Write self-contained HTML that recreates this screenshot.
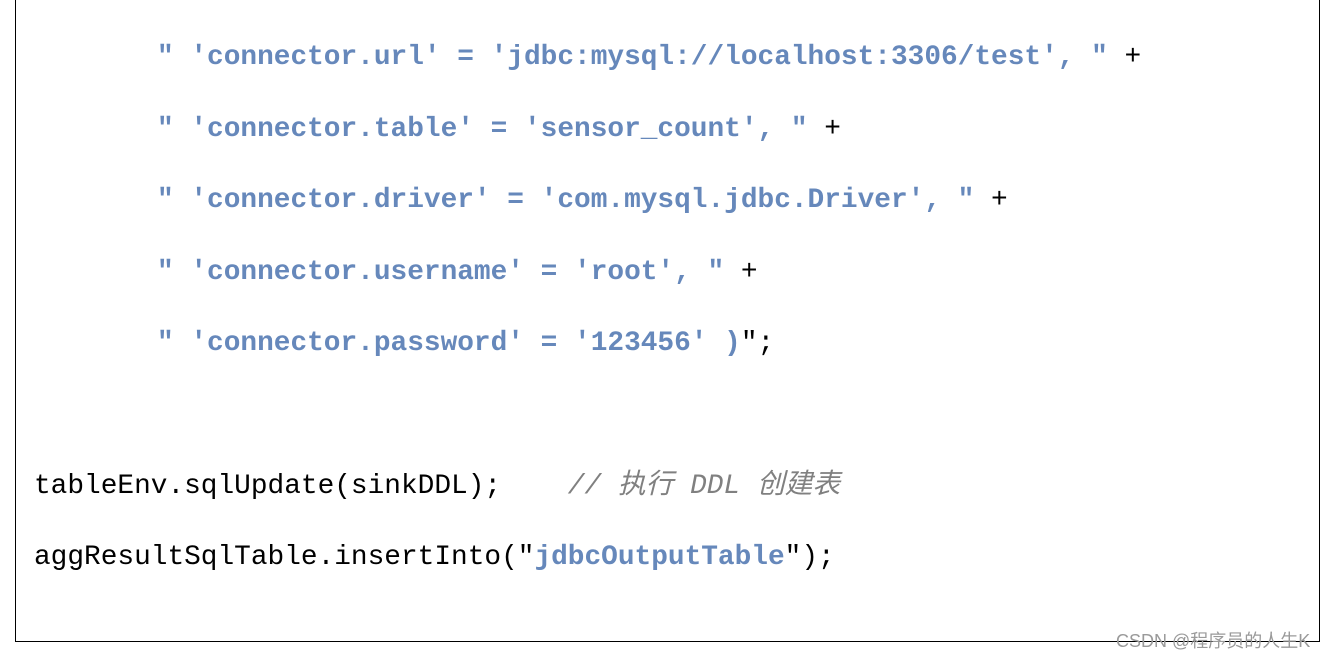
<!DOCTYPE html>
<html><head><meta charset="utf-8"><style>
body{margin:0;width:1336px;height:659px;background:#fff;position:relative;overflow:hidden;font-family:"Liberation Mono","Noto Sans CJK SC",monospace;}
.box{position:absolute;left:15px;top:-2px;width:1303px;height:643px;border:1px solid #000;border-top:none;}
.l{position:absolute;white-space:pre;font-size:27.8px;line-height:34px;color:#000;}
.s{color:#6688bb;font-weight:bold;}
.c{color:#808080;font-style:italic;}
.wm{position:absolute;left:1116px;top:627px;font-family:"Liberation Sans","Noto Sans CJK SC",sans-serif;font-size:18px;color:#9a9a9a;white-space:nowrap;}
</style></head><body>
<div class="box"></div>
<div class="l" style="left:157px;top:41px"><span class="s">" 'connector.url' = 'jdbc:mysql://localhost:3306/test', "</span> +</div>
<div class="l" style="left:157px;top:113px"><span class="s">" 'connector.table' = 'sensor_count', "</span> +</div>
<div class="l" style="left:157px;top:184px"><span class="s">" 'connector.driver' = 'com.mysql.jdbc.Driver', "</span> +</div>
<div class="l" style="left:157px;top:256px"><span class="s">" 'connector.username' = 'root', "</span> +</div>
<div class="l" style="left:157px;top:327px"><span class="s">" 'connector.password' = '123456' )</span>";</div>
<div class="l" style="left:34px;top:470px">tableEnv.sqlUpdate(sinkDDL);    <span class="c">// 执行 DDL 创建表</span></div>
<div class="l" style="left:34px;top:541px">aggResultSqlTable.insertInto("<span class="s">jdbcOutputTable</span>");</div>
<div class="wm">CSDN @程序员的人生K</div>
</body></html>
